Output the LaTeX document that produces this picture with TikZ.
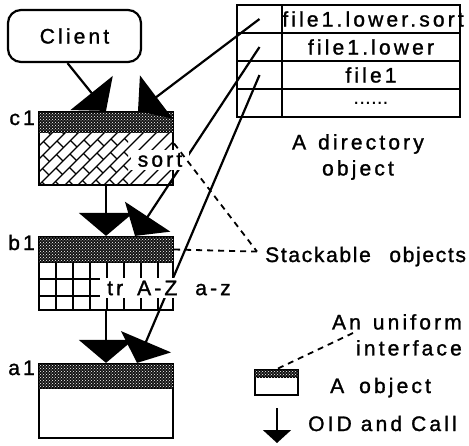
\documentclass[tikz,border=0pt]{standalone}
\usepackage{fontspec}
\setmainfont{Liberation Sans}
\newfontfamily\macfont[LetterSpace=15,FakeBold=1.3]{Liberation Sans}
\newfontfamily\macnarrow[LetterSpace=8,FakeBold=1.3]{Liberation Sans}
\usetikzlibrary{arrows.meta,patterns}
\tikzstyle{band} = [rectangle, draw=black, line width=2.2pt, fill=black!92, postaction={pattern=crosshatch dots, pattern color=white}]
\tikzstyle{body} = [rectangle, draw=black, line width=2.2pt, fill=white]
\tikzstyle{cell} = [rectangle, draw=black, line width=1.8pt]
\tikzstyle{arrow} = [line width=2.2pt, -{Triangle[width=54pt,length=23pt]}]
\tikzstyle{smallarrow} = [line width=2pt, -{Triangle[width=28pt,length=13pt]}]
\tikzstyle{dashline} = [line width=1.8pt, dash pattern=on 6pt off 5pt]
\tikzstyle{txt} = [font=\macfont\fontsize{21pt}{26pt}\selectfont, inner sep=1pt]

\begin{document}
\begin{tikzpicture}[x=1pt, y=-1pt]
    \useasboundingbox (0,0) rectangle (469,445);

    \node (client) [rectangle, rounded corners=13pt, draw=black, line width=2.2pt, minimum width=133pt, minimum height=52pt, txt] at (74.5,36) {Client};

    % directory object
    \node (k1) [cell, minimum width=45pt, minimum height=28pt] at (259.5,19) {};
    \node (k2) [cell, minimum width=45pt, minimum height=28pt] at (259.5,47) {};
    \node (k3) [cell, minimum width=45pt, minimum height=28pt] at (259.5,75) {};
    \node (k4) [cell, minimum width=45pt, minimum height=28pt] at (259.5,103) {};
    \node (v1) [cell, minimum width=178pt, minimum height=28pt] at (371,19) {};
    \node (v2) [cell, minimum width=178pt, minimum height=28pt, txt] at (371,47) {file1.lower};
    \node (v3) [cell, minimum width=178pt, minimum height=28pt, txt] at (371,75) {file1};
    \node (v4) [cell, minimum width=178pt, minimum height=28pt, font=\fontsize{21pt}{26pt}\selectfont] at (371,103) {......};
    \node (v1name) [txt, anchor=west] at (v1.west) {file1.lower.sort};
    \node (dirname) [txt, align=center] at (358,157) {A \hspace{3pt}directory\\object};

    % c1
    \node (c1body) [body, minimum width=134pt, minimum height=53pt] at (106,158.5) {};
    \begin{scope}
        \clip (39,132) rectangle (173,185);
        \foreach \r in {0,...,15}
            \draw[line width=1.4pt] (172+13*\r-185,185) -- (172+13*\r-132,132);
    \end{scope}
    \begin{scope}
        \clip (39,132) rectangle (128,185);
        \foreach \r in {0,...,15}
            \foreach \k in {-12,...,4}
                \draw[line width=1.4pt] ({(172+13*\r)/2+14*\k+7*mod(\r,2)}, {(172+13*\r)/2-14*\k-7*mod(\r,2)}) -- ++(6.5,6.5);
    \end{scope}
    \node (c1band) [band, minimum width=134pt, minimum height=20pt] at (106,122) {};
    \node (c1name) [txt, anchor=base east] at (36,125) {c1};

    % b1
    \node (b1body) [body, minimum width=134pt, minimum height=48pt] at (106,286) {};
    \draw[line width=1.6pt, shift={(39,262)}] (0,0) grid[step=17pt] (134,48);
    \node (b1band) [band, minimum width=134pt, minimum height=25pt] at (106,249.5) {};
    \node (b1name) [txt, anchor=base east] at (36,250) {b1};

    % a1
    \node (a1body) [body, minimum width=134pt, minimum height=50pt] at (106,413) {};
    \node (a1band) [band, minimum width=134pt, minimum height=24pt] at (106,376) {};
    \node (a1name) [txt, anchor=base east] at (36,375) {a1};

    % calls and OIDs
    \draw[arrow] ([xshift=-7pt]client.south) -- (c1band.north);
    \draw[arrow] (k1.center) -- ([xshift=32pt]c1band.north);
    \draw[arrow] (c1body.south) -- (b1band.north);
    \draw[arrow] (k2.center) -- ([xshift=29pt]b1band.north);
    \draw[arrow] (b1body.south) -- (a1band.north);
    \draw[arrow] (k3.center) -- ([xshift=31pt]a1band.north);

    \node (sort) [txt, fill=white, minimum width=58pt, minimum height=20pt] at (160,160) {sort};
    \node (trtext) [txt, fill=white, anchor=west, inner xsep=7pt, inner ysep=0pt, minimum height=20pt] at (100,288) {tr\hspace{5pt} A-Z\hspace{9pt} a-z};

    % notes
    \node (stack) [font=\macnarrow\fontsize{21pt}{26pt}\selectfont, inner xsep=8pt, inner ysep=1pt, anchor=base west] at (257,262) {Stackable\hspace{11pt} objects};
    \draw[dashline] ([yshift=15pt]c1body.east) -- ([yshift=5pt]stack.west);
    \draw[dashline] (b1band.east) -- ([yshift=5pt]stack.west);

    \node (uniform) [txt, align=right, anchor=north east] at (463,313) {An \hspace{3pt}uniform\\interface};

    % legend
    \node (legbody) [body, minimum width=43pt, minimum height=18pt] at (276.5,386) {};
    \node (legband) [band, line width=1.6pt, minimum width=43pt, minimum height=7pt] at (276.5,373.5) {};
    \node (objname) [txt, anchor=base west] at (329,393) {A\hspace{6pt} object};
    \coordinate (uniformtag) at (353,333);
    \draw[dashline] (uniformtag) -- (legband.north);
    \coordinate (oidtop) at (277,408);
    \coordinate (oidtip) at (277,443);
    \draw[smallarrow] (oidtop) -- (oidtip);
    \node (oidname) [txt, anchor=base west] at (307,431) {OID and Call};
\end{tikzpicture}
\end{document}
